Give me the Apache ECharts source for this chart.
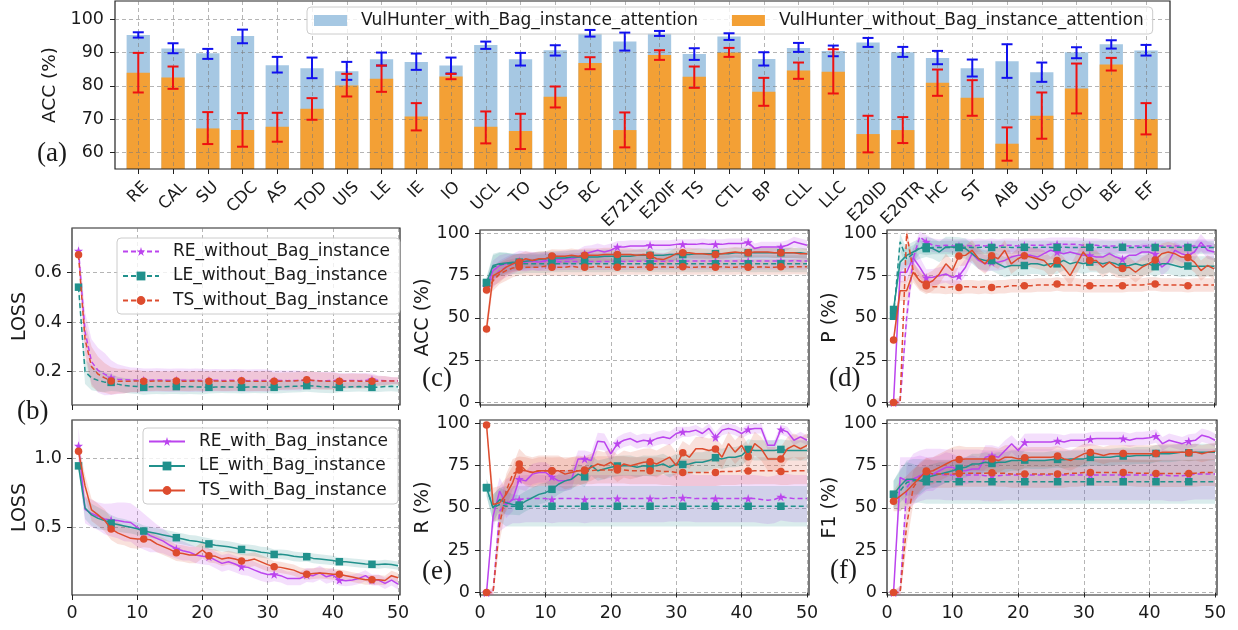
<!DOCTYPE html>
<html><head><meta charset="utf-8">
<script src="https://cdn.jsdelivr.net/npm/echarts@6/dist/echarts.min.js"></script>
<style>html,body{margin:0;padding:0;background:#fff}#c{width:1238px;height:630px}</style>
</head><body><div id="c"></div>
<script>
// ---------- (a) bar data ----------
const categories = ['RE','CAL','SU','CDC','AS','TOD','UIS','LE','IE','IO','UCL','TO','UCS','BC','E721IF','E20IF','TS','CTL','BP','CLL','LLC','E20ID','E20TR','HC','ST','AIB','UUS','COL','BE','EF'];
const withAttn    = [95.3,91.2,89.8,95.0,86.2,85.3,84.4,88.0,87.2,86.1,92.3,88.0,90.7,95.8,93.3,95.8,89.6,94.8,88.1,91.4,90.5,93.0,90.1,88.4,85.3,87.4,84.1,90.1,92.5,90.6];
const withLow     = [94.5,89.8,88.1,92.8,84.0,82.3,81.8,86.1,84.8,83.7,91.1,86.1,89.1,94.8,90.6,95.0,87.8,93.8,86.1,90.2,88.9,91.7,88.7,86.5,82.8,82.4,81.2,88.3,91.2,89.1];
const withHigh    = [96.1,92.8,91.1,96.9,88.7,88.5,87.2,90.0,89.7,88.5,93.3,89.9,92.2,96.8,96.0,96.5,91.3,95.8,90.1,92.9,92.1,94.4,91.7,90.5,87.9,92.5,87.0,91.6,93.7,92.3];
const withoutAttn = [83.9,82.5,67.2,66.7,67.7,73.1,80.1,82.1,70.8,82.8,67.7,66.4,76.7,86.9,66.7,89.3,82.7,90.0,78.2,84.6,84.2,65.5,66.7,80.9,76.4,62.6,71.0,79.2,86.4,70.0];
const withoutLow  = [78.0,79.1,62.5,61.7,63.2,69.8,76.8,78.2,66.6,82.0,62.7,61.0,73.5,85.0,61.5,87.8,79.4,88.7,74.0,82.1,77.7,60.0,62.8,77.0,71.0,57.5,64.1,71.7,84.6,65.4];
const withoutHigh = [89.9,85.8,72.1,71.8,71.9,76.3,83.6,86.1,74.8,83.6,72.3,71.6,79.8,88.6,72.0,90.7,85.8,91.4,82.4,87.0,91.0,71.0,70.6,84.9,81.7,67.5,78.0,86.7,88.4,74.8];
const accTicks = [60,70,80,90,100];

// ---------- curves ----------
const epochs = [1,2,3,4,5,6,7,8,9,10,11,12,13,14,15,16,17,18,19,20,21,22,23,24,25,26,27,28,29,30,31,32,33,34,35,36,37,38,39,40,41,42,43,44,45,46,47,48,49,50];
const epochTicks = [0,10,20,30,40,50];
const pctTicks = [0,25,50,75,100];
const lossTopTicks = [0.2,0.4,0.6];
const lossBotTicks = [0.5,1.0];

// (b) LOSS without
const lossRE_wo = [0.686,0.36,0.24,0.205,0.19,0.176,0.17,0.168,0.167,0.166,0.166,0.166,0.167,0.166,0.165,0.166,0.166,0.165,0.166,0.165,0.165,0.166,0.165,0.165,0.166,0.165,0.164,0.165,0.165,0.164,0.164,0.165,0.164,0.165,0.164,0.165,0.165,0.164,0.164,0.165,0.164,0.164,0.165,0.164,0.165,0.168,0.165,0.164,0.164,0.164];
const lossRE_wo_sd = [0.05,0.08,0.09,0.09,0.085,0.07,0.06,0.055,0.05,0.05,0.047,0.047,0.047,0.047,0.047,0.047,0.047,0.047,0.047,0.047,0.045,0.045,0.045,0.045,0.045,0.045,0.045,0.045,0.045,0.045,0.04,0.04,0.04,0.04,0.04,0.035,0.035,0.035,0.035,0.035,0.03,0.03,0.03,0.03,0.03,0.025,0.02,0.018,0.015,0.013];
const lossLE_wo = [0.54,0.2,0.175,0.165,0.158,0.157,0.15,0.145,0.142,0.14,0.137,0.139,0.14,0.139,0.14,0.14,0.139,0.14,0.139,0.138,0.137,0.138,0.139,0.138,0.138,0.137,0.138,0.139,0.138,0.138,0.137,0.138,0.14,0.141,0.142,0.144,0.142,0.14,0.139,0.138,0.137,0.138,0.139,0.14,0.139,0.137,0.138,0.14,0.141,0.139];
const lossLE_wo_sd = [0.02,0.05,0.05,0.045,0.04,0.035,0.03,0.03,0.03,0.03,0.03,0.03,0.03,0.03,0.03,0.03,0.03,0.03,0.03,0.03,0.025,0.025,0.025,0.025,0.025,0.025,0.025,0.025,0.025,0.025,0.025,0.025,0.025,0.025,0.025,0.025,0.025,0.025,0.025,0.025,0.02,0.02,0.02,0.02,0.02,0.02,0.02,0.02,0.02,0.02];
const lossTS_wo = [0.67,0.33,0.22,0.19,0.175,0.163,0.162,0.162,0.162,0.163,0.162,0.162,0.163,0.162,0.162,0.163,0.162,0.162,0.163,0.162,0.162,0.163,0.162,0.162,0.163,0.164,0.162,0.162,0.162,0.162,0.162,0.162,0.163,0.163,0.165,0.168,0.165,0.163,0.162,0.162,0.162,0.162,0.163,0.162,0.162,0.162,0.162,0.163,0.163,0.163];
const lossTS_wo_sd = [0.03,0.07,0.08,0.07,0.06,0.055,0.05,0.05,0.045,0.045,0.04,0.04,0.04,0.04,0.04,0.04,0.04,0.04,0.04,0.04,0.04,0.04,0.04,0.04,0.04,0.04,0.04,0.04,0.04,0.04,0.035,0.035,0.035,0.035,0.035,0.035,0.035,0.035,0.035,0.035,0.03,0.03,0.03,0.03,0.03,0.025,0.02,0.02,0.015,0.015];

// (b) LOSS with
const lossRE_w = [1.09,0.63,0.6,0.58,0.56,0.553,0.55,0.54,0.535,0.5,0.47,0.44,0.42,0.4,0.37,0.345,0.33,0.32,0.3,0.29,0.287,0.263,0.239,0.251,0.234,0.215,0.21,0.19,0.171,0.159,0.16,0.15,0.13,0.13,0.13,0.155,0.15,0.171,0.142,0.155,0.118,0.114,0.118,0.13,0.15,0.118,0.118,0.094,0.118,0.089];
const lossRE_w_sd = [0.13,0.1,0.1,0.1,0.11,0.12,0.13,0.14,0.14,0.14,0.13,0.12,0.1,0.09,0.08,0.07,0.07,0.06,0.06,0.06,0.06,0.06,0.06,0.06,0.06,0.06,0.06,0.06,0.06,0.06,0.05,0.05,0.05,0.05,0.05,0.05,0.05,0.05,0.05,0.05,0.04,0.04,0.04,0.04,0.04,0.04,0.04,0.04,0.04,0.04];
const lossLE_w = [0.945,0.64,0.59,0.565,0.55,0.53,0.52,0.51,0.5,0.49,0.473,0.465,0.455,0.445,0.435,0.425,0.415,0.405,0.4,0.39,0.38,0.37,0.365,0.36,0.35,0.34,0.335,0.33,0.32,0.315,0.304,0.305,0.3,0.29,0.285,0.287,0.275,0.27,0.265,0.26,0.251,0.25,0.245,0.24,0.235,0.232,0.23,0.235,0.23,0.222];
const lossLE_w_sd = [0.04,0.08,0.08,0.08,0.07,0.06,0.05,0.05,0.045,0.045,0.04,0.04,0.04,0.04,0.04,0.04,0.04,0.04,0.04,0.04,0.04,0.04,0.04,0.04,0.04,0.04,0.04,0.04,0.04,0.04,0.035,0.035,0.035,0.035,0.035,0.035,0.035,0.035,0.035,0.035,0.03,0.03,0.03,0.03,0.03,0.03,0.03,0.03,0.03,0.03];
const lossTS_w = [1.05,0.8,0.626,0.59,0.55,0.488,0.46,0.44,0.42,0.415,0.415,0.41,0.38,0.36,0.34,0.316,0.31,0.3,0.3,0.336,0.295,0.29,0.27,0.28,0.27,0.256,0.26,0.27,0.25,0.23,0.215,0.21,0.2,0.19,0.17,0.16,0.165,0.17,0.165,0.16,0.16,0.15,0.14,0.13,0.12,0.12,0.12,0.115,0.15,0.135];
const lossTS_w_sd = [0.06,0.08,0.08,0.08,0.08,0.08,0.08,0.07,0.07,0.07,0.06,0.06,0.06,0.06,0.06,0.06,0.06,0.06,0.06,0.06,0.05,0.05,0.05,0.05,0.05,0.05,0.05,0.05,0.05,0.05,0.04,0.04,0.04,0.04,0.04,0.04,0.04,0.04,0.04,0.04,0.035,0.035,0.035,0.035,0.035,0.035,0.035,0.035,0.035,0.035];

// (c) ACC
const accRE_wo = [68.5,74,78,80,82,83.7,83.5,83.5,83.3,83.3,83,83.2,83.3,83.3,83.4,83.3,83.4,83.3,83.4,83.4,83.5,83.4,83.5,83.5,83.6,83.5,83.6,83.5,83.6,83.6,83.5,83.6,83.6,83.7,83.6,83.6,83.7,83.6,83.7,83.7,83.6,83.7,83.7,83.6,83.7,83.7,83.7,83.8,83.7,83.7];
const accRE_wo_sd = [4,6,6,6,6,6,6,5.5,5.5,5.5,5,5,5,5,5,5,5,5,5,5,5,5,5,5,5,5,5,5,5,5,5,5,5,5,5,5,5,5,5,5,5,5,5,5,5,5,5,5,5,5];
const accRE_w = [68,78,81,82,82.5,83,83,83.5,83,84,84,84.5,85,85,86,88,89,90,89,90,92,92,92.5,92.5,92.5,93,93,93,93,93.5,93.5,93.5,93.5,94,93.5,93.5,93.5,94,94,94,94.7,91,92,92,92,92,93,95,94,93];
const accRE_w_sd = [4,6,6,6,5,5,5,5,5,5,5,5,5,5,4.5,4.5,4,4,4,4,3.5,3.5,3.5,3.5,3.5,3,3,3,3,3,3,3,3,3,3,3,3,3,3,3,3,3,3,3,3,3,3,3,3,3];
const accLE_wo = [70.5,80,81.5,82,82,82,82.1,82,82,82.1,82,82,82.2,82,82,82.1,82,82,82,82.1,82,82,82.1,82,82,82,82.1,82,82,82,82.1,82,82,82,82.1,82,82,82,82.1,82,82,82,82.1,82,82,82,82.1,82,82,82];
const accLE_wo_sd = [3,7,7,6.5,6,6,5.5,5.5,5.5,5.5,5,5,5,5,5,5,5,5,5,5,5,5,5,5,5,5,5,5,5,5,5,5,5,5,5,5,5,5,5,5,5,5,5,5,5,5,5,5,5,5];
const accLE_w = [71,81,82,82.5,83,83,83.5,84,84.5,85,85.5,85.5,85.5,86,86,86,86,86,86.5,86.5,86.5,86.5,86.5,87,87,87,87,87,87.5,87.5,87.5,87.5,88,88,88,88,88,88,88.5,88.5,88.5,88.5,88.5,88.5,88.5,88.5,88.5,88.5,88.5,88];
const accLE_w_sd = [3,7,7,6,5,5,4.5,4.5,4.5,4.5,4,4,4,4,4,4,4,4,4,4,3.5,3.5,3.5,3.5,3.5,3.5,3.5,3.5,3.5,3.5,3,3,3,3,3,3,3,3,3,3,3,3,3,3,3,3,3,3,3,3];
const accTS_wo = [66.5,72,76,78,79.5,80.3,80,80,80,80.5,80,80,80,80.5,80,80,80,80.5,80,80,80,80.2,80,80,80.2,80,80,80.2,80,80,80.3,80,80,80.2,80,80,80.2,80,80,80.3,80,80,80.2,80,80,80.2,80,80.3,80.2,80.2];
const accTS_wo_sd = [3,6,6,6,5.5,5,5,5,5,5,5,5,5,5,5,5,5,5,5,5,4.5,4.5,4.5,4.5,4.5,4.5,4.5,4.5,4.5,4.5,4.5,4.5,4.5,4.5,4.5,4.5,4.5,4.5,4.5,4.5,4.5,4.5,4.5,4.5,4.5,4.5,4.5,4.5,4.5,4.5];
const accTS_w = [43.5,75,77,80,82,83,85,84,85,85,86.6,86.5,86.5,87,86.5,87,87,87,87.5,87.5,87.5,87.5,87.5,87,87.5,87,85,84.5,86,88,88.5,88.5,88,88,87.5,87.5,88,88.5,89,88.5,88.5,89,89,89,88.5,88.5,88.5,88.5,88,88];
const accTS_w_sd = [5,6,6,5,5,5,4.5,4.5,4.5,4.5,4,4,4,4,4,4,4,4,4,4,3.5,3.5,3.5,3.5,3.5,3.5,3.5,3.5,3.5,3.5,3,3,3,3,3,3,3,3,3,3,3,3,3,3,3,3,3,3,3,3];

// (d) P
const pRE_wo = [0,0,50,85,98,95,93,92.5,93,92.5,92.5,93,92.5,93,92.5,93,92.5,93,93,92.5,93,93,93,93,93.5,93.5,93.5,93.5,93.5,93,93,93,92.5,92.5,92.5,92.5,92.5,92.5,92.5,92.5,92.5,92.5,92.5,92.5,92.5,92.5,92.5,92.5,92.5,92.5];
const pRE_wo_sd = [1,2,8,6,3,4,4,4,4,4,4,4,4,4,4,4,4,4,4,4,4,4,4,4,4,4,4,4,4,4,4,4,4,4,4,4,4,4,4,4,4,4,4,4,4,4,4,4,4,4];
const pRE_w = [0,77,77,85.6,80,73.8,74,75,76,74,74.8,80,88,84,82,83,83,84,86,87,87,87,86,88,90,89,88,89,88,87,87,86,86,88,86,84.8,87,87,89,89,87.8,80,83,90,88,87,89,94.7,90,89];
const pRE_w_sd = [1,6,6,6,6,5,5,5,5,5,5,5,5,5,5,5,5,5,5,5,5,5,5,5,5,5,5,5,5,5,5,5,5,5,5,5,5,5,5,5,5,5,5,5,5,5,5,5,5,5];
const pLE_wo = [51,95,85,88,92,91,91.7,91.7,91.7,91.7,91.7,91.8,91.7,91.7,91.8,91.7,91.7,91.8,91.7,91.7,91.8,91.7,91.7,91.8,91.7,91.7,91.8,91.7,91.7,91.8,91.7,91.7,91.8,91.7,91.7,91.8,91.7,91.7,91.8,91.7,91.7,91.8,91.7,91.7,91.8,91.7,91.7,91.8,91.7,91.7];
const pLE_wo_sd = [2,5,6,5,4,4,4,4,4,4,4,4,4,4,4,4,4,4,4,4,4,4,4,4,4,4,4,4,4,4,4,4,4,4,4,4,4,4,4,4,4,4,4,4,4,4,4,4,4,4];
const pLE_w = [55,83,87,89,91,92,91,89,92,92,91.7,91,88,85,84,83.9,82,80,81,81,81,82,82,81,82,82,84,82,83,82,83,83,82,83,82,80.3,81,82,81,82,80.3,82,82,81,80,80.7,80.5,80.5,80.5,80.5];
const pLE_w_sd = [2,6,6,6,6,6,6,6,6,6,6,6,6,6,6,6,6,6,6,6,6,6,6,6,6,6,6,6,6,6,6,6,6,6,6,6,6,6,6,6,6,6,6,6,6,6,6,6,6,6];
const pTS_wo = [0,0,100,78,72,69,68.5,68.5,68,68.5,68,68.5,68.5,68,68.5,68,68.5,68.5,69,69,69,69,69.5,69.5,69.5,70,69.5,69.5,69.5,69,69,69,69,69,69,69,69.5,69.5,69.5,70,70,69.5,69.5,69.5,69.5,69,69.5,69.5,69.5,69.5];
const pTS_wo_sd = [2,3,4,5,5,4,4,4,4,4,4,4,4,4,4,4,4,4,4,4,4,4,4,4,4,4,4,4,4,4,4,4,4,4,4,4,4,4,4,4,4,4,4,4,4,4,4,4,4,4];
const pTS_w = [37,66,66,77,72,70,72,76,82,78,86.6,87,90,85,82,86.8,85,90,82,85,86.8,86,85,84,80,84,80,75,82,89,84,84,80,83,80,79.3,80,77,80,82,84.3,88,89,88,86,85.8,83,78,81,79];
const pTS_w_sd = [3,6,6,6,6,6,6,6,6,6,6,6,6,6,6,6,6,6,6,6,6,6,6,6,6,6,6,6,6,6,6,6,6,6,6,6,6,6,6,6,6,6,6,6,6,6,6,6,6,6];

// (e) R
const rRE_wo = [0,0,48,53,55,55,55.5,55.5,55.5,55.5,55,55.5,55.5,55.5,55.5,55,55.5,55.5,55.5,55.5,55.5,55.5,55.5,55.5,55.5,55.5,55.5,55.5,56,56,56,56,55.5,55.5,55.5,55.5,55.5,55.5,55.5,55.5,55.5,55.5,55,54.5,55,56.5,56,55.5,55.5,55.5];
const rRE_wo_sd = [1,2,12,14,14,14,14,14,14,14,14,14,14,14,14,14,14,14,14,14,14,14,14,14,14,14,14,14,14,14,14,14,14,14,14,14,14,14,14,14,14,14,14,14,14,14,14,14,14,14];
const rRE_w = [0,45,60,52,55,67,66,70,71,71,68.4,66,66,67,79,79,78,89.5,89,82,88,90,91,89,90,89.5,91,92,91,94,95,95,96,94,97,91.7,96,97,96,94,96.4,97,97,87,87,96.4,95,90,92,90];
const rRE_w_sd = [1,8,8,8,7,6,6,6,6,6,6,6,6,6,5,5,5,5,5,5,4,4,4,4,4,4,4,4,4,4,3,3,3,3,3,3,3,3,3,3,3,3,3,3,3,3,3,3,3,3];
const rLE_wo = [62,50,52,51,51,51,51,51,51,51,51,51,51,51,51,51,51,51,51,51,51,51,51,51,51,51,51,51,51,51,51,51,51,51,51,51,51,51,51,51,51,51,51,51,51,51,51,51,51,51];
const rLE_wo_sd = [5,8,10,12,12,12,12,12,12,12,12,12,12,12,12,12,12,12,12,12,12,12,12,12,12,12,12,12,12,12,12,12,12,12,12,12,12,12,12,12,12,12,12,12,12,12,12,12,12,12];
const rLE_w = [62,50,55,53,52,51.7,54,56,58,59,61,64,66,67,70,68.4,75,72,73,74,74.8,75,75,74,75,74.8,75,76,74,76,75.7,76,77,77,78,79.7,79,80,80,81,84.6,84,84,84,84,84.6,84,84,84,84];
const rLE_w_sd = [5,8,7,7,6,6,6,6,6,6,6,6,6,6,6,6,6,6,6,6,6,6,6,6,6,6,6,6,6,6,6,6,6,6,6,6,6,6,6,6,6,6,6,6,6,6,6,6,6,6];
const rTS_wo = [0,0,40,60,70,72.4,72,71,72,72,71.8,72,72,72,72,72,72,72.5,72.5,72.5,72.5,72.5,72,72,72,72,72,71.5,71.5,71,71,71,71,71,71,71,71.5,71.5,71.5,72,71.8,72,72,72,72,71.5,71.5,72,72,72];
const rTS_wo_sd = [1,3,10,10,9,8,8,8,8,8,8,8,8,8,8,8,8,8,8,8,8,8,8,8,8,8,8,8,8,8,8,8,8,8,8,8,8,8,8,8,8,8,8,8,8,8,8,8,8,8];
const rTS_w = [99,52,53,58,65,76,72,71,72,72,72,72,70,71,72,72.4,74,76,75,77,73.4,76,75,76,77,77.3,76,78,80,75,82.6,80,85,85,84,84.8,80,88,83,87,80.3,88,85,79,79,79,85,87,85,87];
const rTS_w_sd = [2,10,10,10,10,9,9,9,9,9,9,9,9,9,9,8,8,8,8,8,8,8,8,8,8,8,8,8,8,8,7,7,7,7,7,7,7,7,7,7,7,7,7,7,7,7,7,7,7,7];

// (f) F1
const fRE_wo = [0,0,62,67,69,70,70,70,69.5,69.5,69.5,69.5,69.5,69.5,69,69,69,69.5,69.5,69.5,69.5,69.5,69.5,69.5,69.5,69.5,69.5,69.5,69.5,69.5,69.5,69.5,69.5,69.5,69.5,69.5,69.5,69.5,69.5,69.5,69.5,69.5,69,69,69,69.5,70,70,70,70];
const fRE_wo_sd = [1,3,14,15,15,15,15,15,15,15,15,15,15,15,15,15,15,15,15,15,15,15,15,15,15,15,15,15,15,15,15,15,15,15,15,15,15,15,15,15,15,15,15,15,15,15,15,15,15,15];
const fRE_w = [0,68,66,67,69,70,70,72,74,74,72,72,73,73,80,81,80,84,88,84,88.8,89,89,89,89,89.7,89,90,90,90,90.7,91,91,91,91,91,90,91,91,91.5,92.5,88,90,89,88,89.5,90,93,92,90];
const fRE_w_sd = [1,12,14,13,12,10,10,9,9,8,8,8,8,7,7,6,6,6,5,5,5,5,5,5,5,4,4,4,4,4,4,4,4,4,4,4,4,4,4,4,4,4,4,4,4,4,4,4,4,4];
const fLE_wo = [58,60,65,66,66,65.5,65.5,65.5,65.5,65.5,65.5,65.5,65.5,65.5,65.5,65.5,65.5,65.5,65.5,65.5,65.5,65.5,65.5,65.5,65.5,65.5,65.5,65.5,65.5,65.5,65.5,65.5,65.5,65.5,65.5,65.5,65.5,65.5,65.5,65.5,65.5,65.5,65.5,65.5,65.5,65.5,65.5,65.5,65.5,65.5];
const fLE_wo_sd = [8,12,13,13,13,13,13,13,13,13,13,13,13,13,13,13,13,13,13,13,13,13,13,13,13,13,13,13,13,13,13,13,13,13,13,13,13,13,13,13,13,13,13,13,13,13,13,13,13,13];
const fLE_w = [58,63,67,67,66,68,69,70,71,72,73.4,74,76,76,77,76.3,77,77,78,78,78.3,78,78,78,78.5,78.7,78.5,79,79,79,79.9,80,80,80,80.5,80.7,80.5,81,81,81,82.2,82,82,82.5,83,82.6,83,83,83,83];
const fLE_w_sd = [8,10,10,9,8,7,7,7,6,6,6,6,6,6,6,6,6,6,6,6,5,5,5,5,5,5,5,5,5,5,5,5,5,5,5,5,5,5,5,5,5,5,5,5,5,5,5,5,5,5];
const fTS_wo = [0,0,40,62,68,71.8,70,70,70,70,70.4,70.5,70.5,70.5,70.5,70.8,70.5,70.5,70,70,70,70,70,70,70,70,70,70.5,70.5,71,71,71,71,71,71,71,71,70.5,70.5,70.5,70.4,70.4,70.4,70.4,70.4,70.4,70.5,71,71,71];
const fTS_wo_sd = [1,4,12,10,9,8,8,8,8,8,8,8,8,8,8,8,8,8,8,8,8,8,8,8,8,8,8,8,8,8,8,8,8,8,8,8,8,8,8,8,8,8,8,8,8,8,8,8,8,8];
const fTS_w = [54,57,60,64,68,71.4,72,74,76,78,78.7,79,79,79,79,78.9,78,80,80,79,79.7,80,80,80,80,80.7,79,78,80,82,82.8,82,81,82,82,82.2,82,82,82,82,82.2,83,83,83,83,82.6,83,82,83,83.5];
const fTS_w_sd = [6,9,9,9,8,8,8,8,8,8,8,7,7,7,7,7,7,7,7,7,6,6,6,6,6,6,6,6,6,6,5,5,5,5,5,5,5,5,5,5,5,5,5,5,5,5,5,5,5,5];

// ---------- styling ----------
const FONT = 'DejaVu Sans';
const INK = '#1a1a1a';
const C_RE = '#bb44ee', C_LE = '#21918c', C_TS = '#dd4c2e';
const C_BLUE = '#a6c8e3', C_ORANGE = '#f3a035';
const STAR = 'path://M50,2L61.2,36.2L97.6,36.2L68.2,57.6L79.4,92.2L50,71L20.6,92.2L31.8,57.6L2.4,36.2L38.8,36.2Z';
const N_RE_WO='RE_without_Bag_instance', N_LE_WO='LE_without_Bag_instance', N_TS_WO='TS_without_Bag_instance';
const N_RE_W='RE_with_Bag_instance', N_LE_W='LE_with_Bag_instance', N_TS_W='TS_with_Bag_instance';

const grids = [
  {left:115, top:1, width:1055, height:168, z:3},
  {left:120.9, top:1, width:1042.5, height:168},
  {left:138.4, top:1, width:1007.7, height:168},
  {left:72, top:228, width:328, height:177},
  {left:72, top:420, width:328, height:175},
  {left:480, top:230, width:329, height:175},
  {left:887, top:230, width:329, height:175},
  {left:480, top:420, width:329, height:175},
  {left:887, top:420, width:330, height:175}
].map(g => Object.assign({show:true, borderColor:'#222', borderWidth:1.2, backgroundColor:'transparent', containLabel:false}, g));
grids[1].show = false; grids[2].show = false;

const dashSplit = {show:true, lineStyle:{color:'rgba(120,120,120,0.55)', type:[4,3], width:1}};
const tickStyle = {show:true, length:5, lineStyle:{color:'#222', width:1}};
const labelStyle = {color:INK, fontSize:17.5, fontFamily:FONT};

// rotated category labels, centred under each tick like matplotlib
const meas = document.createElement('canvas').getContext('2d');
meas.font = '16.5px "DejaVu Sans"';
const rich = {};
categories.forEach((c, i) => {
  const L = meas.measureText(c).width;
  const s = (L + 19) / 4;
  rich['t' + i] = {fontSize:16.5, fontFamily:FONT, color:INK, lineHeight:19, padding:[2*s, 2*s, 0, 0]};
});

const xAxes = [
  {gridIndex:0, type:'value', min:0, max:1, show:false},
  {gridIndex:1, type:'category', data:categories, axisLine:{show:false}, axisTick:Object.assign({alignWithLabel:true, interval:0}, tickStyle),
    axisLabel:{interval:0, rotate:45, align:'center', verticalAlign:'middle', margin:9, rich:rich, formatter:(v,i)=>'{t'+i+'|'+v+'}'}, splitLine:{show:false}},
  {gridIndex:2, type:'value', min:0, max:29, interval:1, axisLine:{show:false}, axisTick:{show:false}, axisLabel:{show:false}, splitLine:dashSplit, z:3}
];
const yAxes = [
  {gridIndex:0, type:'value', min:55, max:105.5, axisLine:{show:false}, axisTick:Object.assign({customValues:accTicks}, tickStyle),
    axisLabel:Object.assign({customValues:accTicks, margin:11}, labelStyle), splitLine:dashSplit, z:3,
    name:'ACC (%)', nameLocation:'middle', nameGap:52, nameTextStyle:{fontSize:18.5, fontFamily:FONT, color:INK}},
  {gridIndex:1, type:'value', min:55, max:105.5, show:false},
  {gridIndex:2, type:'value', min:55, max:105.5, show:false}
];
function panelAxes(gi, ymin, ymax, yticks, name, showX, fmt) {
  xAxes.push({gridIndex:gi, type:'value', min:0, max:50.3, axisLine:{show:false},
    axisTick:Object.assign({customValues:epochTicks}, tickStyle),
    axisLabel:Object.assign({show:showX, customValues:epochTicks, margin:9}, labelStyle), splitLine:dashSplit});
  yAxes.push({gridIndex:gi, type:'value', min:ymin, max:ymax, axisLine:{show:false},
    axisTick:Object.assign({customValues:yticks}, tickStyle),
    axisLabel:Object.assign({customValues:yticks, margin:10, formatter:fmt}, labelStyle), splitLine:dashSplit,
    name:name, nameLocation:'middle', nameGap:name==='LOSS'?42:38, nameTextStyle:{fontSize:19, fontFamily:FONT, color:INK}});
}
panelAxes(3, 0.066, 0.778, lossTopTicks, 'LOSS', false, v=>v.toFixed(1));
panelAxes(4, 0.01, 1.277, lossBotTicks, 'LOSS', true, v=>v.toFixed(1));
panelAxes(5, -1.5, 102, pctTicks, 'ACC (%)', false, v=>String(v));
panelAxes(6, -1.5, 102, pctTicks, 'P (%)', false, v=>String(v));
panelAxes(7, -1.5, 102, pctTicks, 'R (%)', true, v=>String(v));
panelAxes(8, -1.5, 102, pctTicks, 'F1 (%)', true, v=>String(v));

const series = [];
// bars
series.push({type:'bar', name:'VulHunter_with_Bag_instance_attention', xAxisIndex:1, yAxisIndex:1, data:withAttn, barWidth:23.3, barGap:'-100%', itemStyle:{color:C_BLUE}, z:2});
series.push({type:'bar', name:'VulHunter_without_Bag_instance_attention', xAxisIndex:1, yAxisIndex:1, data:withoutAttn, barWidth:23.3, barGap:'-100%', itemStyle:{color:C_ORANGE}, z:2});
function errSeries(lo, hi, color) {
  return {type:'custom', xAxisIndex:1, yAxisIndex:1, silent:true, z:4,
    data: categories.map((c,i)=>[i, lo[i], hi[i]]), encode:{x:0, y:[1,2]},
    renderItem:(params, api)=>{
      const i = api.value(0);
      const a = api.coord([i, api.value(1)]), b = api.coord([i, api.value(2)]);
      const w = 5.5, st = {stroke:color, lineWidth:2};
      return {type:'group', children:[
        {type:'line', shape:{x1:a[0], y1:a[1], x2:b[0], y2:b[1]}, style:st},
        {type:'line', shape:{x1:a[0]-w, y1:a[1], x2:a[0]+w, y2:a[1]}, style:st},
        {type:'line', shape:{x1:b[0]-w, y1:b[1], x2:b[0]+w, y2:b[1]}, style:st}]};
    }};
}
series.push(errSeries(withLow, withHigh, '#1111ee'));
series.push(errSeries(withoutLow, withoutHigh, '#ee1111'));

function band(gi, ys, sd, color) {
  return {type:'custom', xAxisIndex:gi, yAxisIndex:gi, silent:true, z:1, data:[[epochs[0], ys[0]]],
    renderItem:(params, api)=>{
      if (params.dataIndex > 0) return;
      const pts = [];
      for (let i = 0; i < epochs.length; i++) pts.push(api.coord([epochs[i], ys[i] + sd[i]]));
      for (let i = epochs.length - 1; i >= 0; i--) pts.push(api.coord([epochs[i], ys[i] - sd[i]]));
      const cs = params.coordSys;
      return {type:'polygon', shape:{points:pts}, style:{fill:color, opacity:0.17},
        clipPath:{type:'rect', shape:{x:cs.x, y:cs.y, width:cs.width, height:cs.height}}};
    }};
}
function curve(name, gi, ys, color, dashed, sym, z) {
  return {type:'line', name:name, xAxisIndex:gi, yAxisIndex:gi, data:epochs.map((e,i)=>[e, ys[i]]),
    symbol:sym, symbolSize:(v,p)=> (p.dataIndex % 5 === 0 ? (sym===STAR?9:7.5) : 0), showAllSymbol:true,
    lineStyle:{color:color, width:1.5, type: dashed ? [5,3] : 'solid'}, itemStyle:{color:color}, z:z||3, silent:true};
}
function panel(gi, tag, arrs) {
  const cols = [C_RE, C_LE, C_TS, C_RE, C_LE, C_TS];
  const syms = [STAR, 'rect', 'circle', STAR, 'rect', 'circle'];
  const names = [N_RE_WO, N_LE_WO, N_TS_WO, N_RE_W, N_LE_W, N_TS_W];
  for (let k = 0; k < arrs.length/2; k++) series.push(band(gi, arrs[2*k], arrs[2*k+1], cols[tag.offset + k]));
  for (let k = 0; k < arrs.length/2; k++) {
    const idx = tag.offset + k;
    series.push(curve(tag.prefix ? tag.prefix + names[idx] : names[idx], gi, arrs[2*k], cols[idx], idx < 3, syms[idx], 3 + k*0.01));
  }
}
panel(3, {offset:0, prefix:''}, [lossRE_wo, lossRE_wo_sd, lossLE_wo, lossLE_wo_sd, lossTS_wo, lossTS_wo_sd]);
panel(4, {offset:3, prefix:''}, [lossRE_w, lossRE_w_sd, lossLE_w, lossLE_w_sd, lossTS_w, lossTS_w_sd]);
function metricPanel(gi, pfx, a) {
  panel(gi, {offset:0, prefix:pfx+' '}, a.slice(0,6));
  panel(gi, {offset:3, prefix:pfx+' '}, a.slice(6,12));
}
metricPanel(5, 'ACC', [accRE_wo, accRE_wo_sd, accLE_wo, accLE_wo_sd, accTS_wo, accTS_wo_sd, accRE_w, accRE_w_sd, accLE_w, accLE_w_sd, accTS_w, accTS_w_sd]);
metricPanel(6, 'P', [pRE_wo, pRE_wo_sd, pLE_wo, pLE_wo_sd, pTS_wo, pTS_wo_sd, pRE_w, pRE_w_sd, pLE_w, pLE_w_sd, pTS_w, pTS_w_sd]);
metricPanel(7, 'R', [rRE_wo, rRE_wo_sd, rLE_wo, rLE_wo_sd, rTS_wo, rTS_wo_sd, rRE_w, rRE_w_sd, rLE_w, rLE_w_sd, rTS_w, rTS_w_sd]);
metricPanel(8, 'F1', [fRE_wo, fRE_wo_sd, fLE_wo, fLE_wo_sd, fTS_wo, fTS_wo_sd, fRE_w, fRE_w_sd, fLE_w, fLE_w_sd, fTS_w, fTS_w_sd]);

const legBase = {orient:'vertical', selectedMode:false, borderColor:'#cccccc', borderWidth:1, borderRadius:4,
  backgroundColor:'rgba(255,255,255,0.8)', itemWidth:36, itemHeight:11, itemGap:5.5,
  textStyle:{fontSize:17, fontFamily:FONT, color:INK, lineHeight:19, padding:[0,0,0,9]}};
const legends = [
  {data:['VulHunter_with_Bag_instance_attention','VulHunter_without_Bag_instance_attention'], left:307, top:7, orient:'horizontal',
   selectedMode:false, icon:'rect', itemWidth:33, itemHeight:11, itemGap:34, padding:[4,9,4,7], borderColor:'#cccccc', borderWidth:1, borderRadius:4,
   backgroundColor:'rgba(255,255,255,0.8)', textStyle:{fontSize:17, fontFamily:FONT, color:INK, lineHeight:19, padding:[0,0,0,9]}},
  Object.assign({}, legBase, {data:[N_RE_WO, N_LE_WO, N_TS_WO], left:117, top:238, padding:[4,10,4,5]}),
  Object.assign({}, legBase, {data:[N_RE_W, N_LE_W, N_TS_W], left:143, top:428, padding:[4,10,4,5]})
];

const serif = {fontFamily:'Liberation Serif', fontSize:27, fill:INK};
const graphic = [
  {type:'text', left:37, top:140, style:Object.assign({text:'(a)'}, serif)},
  {type:'text', left:17, top:398, style:Object.assign({text:'(b)'}, serif)},
  {type:'text', left:422, top:365, style:Object.assign({text:'(c)'}, serif)},
  {type:'text', left:829, top:365, style:Object.assign({text:'(d)'}, serif)},
  {type:'text', left:422, top:558, style:Object.assign({text:'(e)'}, serif)},
  {type:'text', left:830, top:557, style:Object.assign({text:'(f)'}, serif)}
];

const chart = echarts.init(document.getElementById('c'), null, {renderer:'canvas'});
chart.setOption({animation:false, backgroundColor:'#fff', grid:grids, xAxis:xAxes, yAxis:yAxes, series:series, legend:legends, graphic:graphic});
</script></body></html>
